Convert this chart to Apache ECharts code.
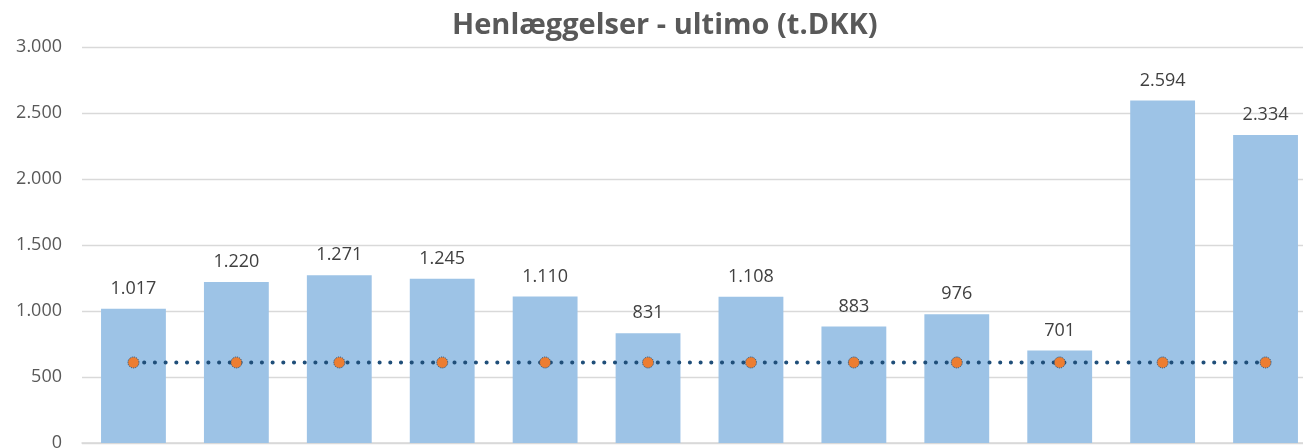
<!DOCTYPE html>
<html>
<head>
<meta charset="utf-8">
<script src="https://cdn.jsdelivr.net/npm/echarts@6/dist/echarts.min.js"></script>
<style>
html,body{margin:0;padding:0;background:#fff;}
#c{width:1303px;height:448px;}
</style>
</head>
<body>
<div id="c"></div>
<script>
const categories = ["1","2","3","4","5","6","7","8","9","10","11","12"];
const henlaeggelser = [1017, 1220, 1271, 1245, 1110, 831, 1108, 883, 976, 701, 2594, 2334];
const niveau = [610, 610, 610, 610, 610, 610, 610, 610, 610, 610, 610, 610];
const titleText = "Henlæggelser - ultimo (t.DKK)";

function dk(v){
  return String(Math.round(v)).replace(/\B(?=(\d{3})+(?!\d))/g, ".");
}

const chart = echarts.init(document.getElementById('c'));
chart.setOption({
  animation: false,
  title: {
    text: titleText,
    left: 447,
    top: 6,
    textStyle: {fontFamily: "Open Sans", fontWeight: "bold", fontSize: 29, color: "#595959"}
  },
  grid: {left: 82, top: 47, width: 1235, height: 396, containLabel: false, outerBoundsMode: 'none'},
  xAxis: {
    type: 'category',
    data: categories,
    axisLine: {show: true, lineStyle: {color: '#D9D9D9', width: 1.5}},
    axisTick: {show: false},
    axisLabel: {show: false}
  },
  yAxis: {
    type: 'value',
    min: 0, max: 3000, interval: 500,
    axisLine: {show: false},
    axisTick: {show: false},
    splitLine: {lineStyle: {color: '#D9D9D9', width: 1.3}},
    axisLabel: {
      formatter: dk,
      color: '#595959',
      fontFamily: "Open Sans",
      fontSize: 18,
      margin: 20
    }
  },
  series: [
    {
      type: 'bar',
      data: henlaeggelser,
      barCategoryGap: '37%',
      itemStyle: {color: '#9DC3E6'},
      label: {
        show: true,
        position: 'top',
        distance: 11,
        formatter: p => dk(p.value),
        color: '#404040',
        fontFamily: "Open Sans",
        fontSize: 18
      }
    },
    {
      type: 'line',
      data: niveau,
      symbol: 'circle',
      symbolSize: 11,
      lineStyle: {color: '#1F4E79', width: 4, type: [0.1, 10.6], cap: 'round'},
      itemStyle: {color: '#ED7D31', borderColor: '#1F4E79', borderWidth: 1, borderType: 'dotted'},
      z: 5
    }
  ]
});
</script>
</body>
</html>
